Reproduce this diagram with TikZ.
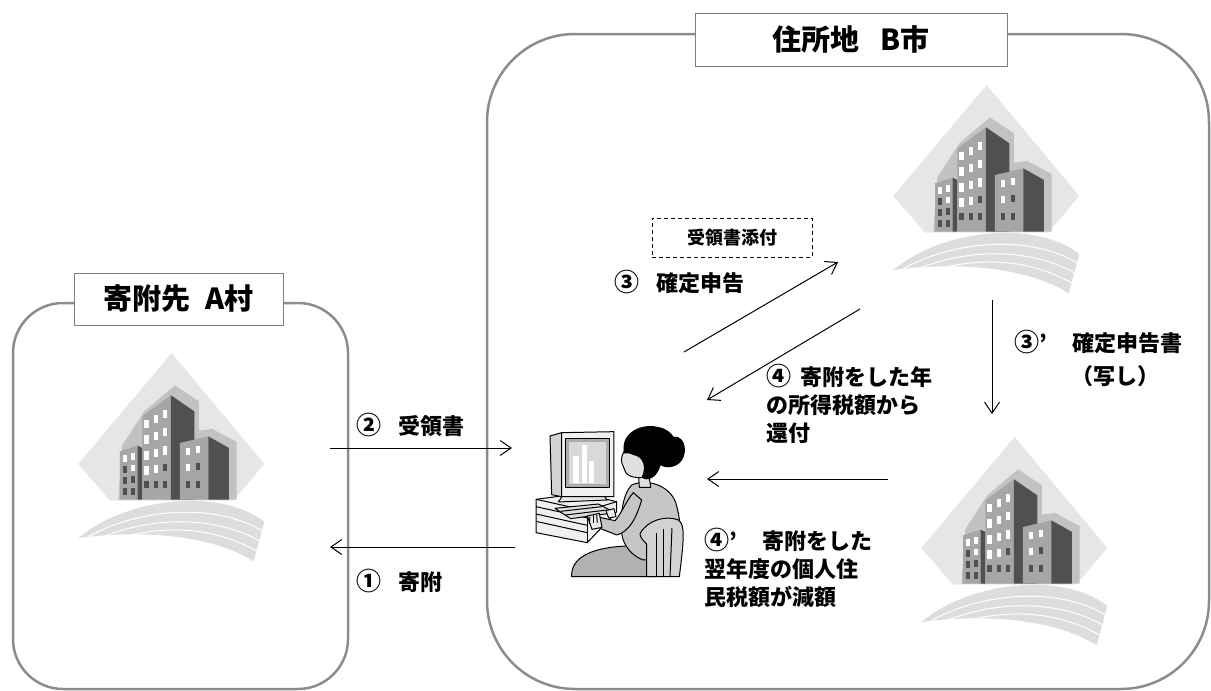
\documentclass[tikz,border=0pt]{standalone}
\usepackage{fontspec}
\setmainfont{Noto Sans CJK JP}
\usetikzlibrary{arrows.meta}

\definecolor{framegray}{HTML}{8C8C8C}
\definecolor{diamgray}{HTML}{E6E6E6}
\definecolor{swooshgray}{HTML}{DDDDDD}
\definecolor{shadegray}{HTML}{C2C2C2}
\definecolor{facegray}{HTML}{A6A6A6}
\definecolor{sidegray}{HTML}{505050}

% circled step numbers, set a little larger than the text around them
\newcommand\stepno[1]{{\fontsize{25}{28}\selectfont #1}}

\tikzset{
  frame/.style={draw=framegray, line width=2.5pt},
  titlebox/.style={draw=gray, line width=0.8pt, fill=white, inner sep=0pt,
    font=\bfseries\fontsize{29}{34}\selectfont},
  flow/.style={-{Straight Barb[length=11pt,width=15pt]}, line width=1pt},
  lbl/.style={font=\bfseries\fontsize{22}{28}\selectfont, align=left, inner sep=0pt},
  notebox/.style={draw, dashed, dash pattern=on 4pt off 3pt, line width=1pt,
    inner sep=0pt, font=\bfseries\fontsize{18}{22}\selectfont},
  win/.style={fill=white},
  dwin/.style={fill=sidegray},
  % office building icon, drawn in a 600 x 640 grid
  building/.pic={
    \begin{scope}[x=0.3333pt,y=-0.3333pt]
      \fill[diamgray] (320,15) -- (598,348) -- (505,458) -- (135,458) -- (40,348) -- cycle;
      \fill[swooshgray] (40,570) .. controls (190,445) and (470,420) .. (598,522)
        -- (566,640) .. controls (440,560) and (230,545) .. (40,570) -- cycle;
      \draw[white, line width=1pt] (70,566) .. controls (220,482) and (450,462) .. (594,550);
      \draw[white, line width=1pt] (100,572) .. controls (250,508) and (440,498) .. (586,580);
      \draw[white, line width=1pt] (140,576) .. controls (280,534) and (430,528) .. (577,610);
      \fill[shadegray] (172,292) -- (238,190) -- (330,112) -- (402,160) -- (402,248)
        -- (442,243) -- (515,282) -- (515,455) -- (160,455) -- cycle;
      % left block
      \fill[facegray] (165,310) -- (218,293) -- (218,455) -- (165,455) -- cycle;
      \fill[sidegray] (218,293) -- (232,300) -- (232,455) -- (218,455) -- cycle;
      % tall middle block
      \fill[facegray] (232,205) -- (318,142) -- (318,455) -- (232,455) -- cycle;
      \fill[sidegray] (318,142) -- (388,190) -- (388,455) -- (318,455) -- cycle;
      % right block
      \fill[facegray] (345,285) -- (430,265) -- (430,455) -- (345,455) -- cycle;
      \fill[sidegray] (430,265) -- (492,300) -- (492,455) -- (430,455) -- cycle;
      % windows
      \foreach \wx/\wy in {238/215,266/200,293/185,238/262,266/251,293/240,
                           238/310,266/302,293/295,238/355,266/350}
        \fill[win] (\wx,\wy) rectangle ++(14,25);
      \foreach \wx/\wy in {293/347,238/398,266/398,293/398}
        \fill[dwin] (\wx,\wy) rectangle ++(14,22);
      \foreach \wx/\wy in {173/322,198/316,198/350,362/300,394/295,362/348}
        \fill[win] (\wx,\wy) rectangle ++(12,20);
      \foreach \wx/\wy in {173/355,173/388,198/385,173/420,198/420,394/345,362/400,394/400}
        \fill[dwin] (\wx,\wy) rectangle ++(12,20);
    \end{scope}
  },
  % woman at a computer, drawn in a 660 x 600 grid
  worker/.pic={
    \begin{scope}[x=0.3333pt,y=-0.3333pt, line width=1pt, line join=round]
      % desk
      \filldraw[fill=gray!12] (108,298) -- (245,280) -- (350,305) -- (350,335)
        -- (262,428) -- (108,398) -- cycle;
      \draw (108,298) -- (262,332) -- (350,305);
      \draw (262,332) -- (262,428);
      \foreach \k in {22,44,66}
        \draw (108,298+\k) -- (262,332+\k);
      % monitor
      \filldraw[fill=gray!20] (190,284) -- (305,280) -- (322,300) -- (175,306) -- cycle;
      \filldraw[fill=gray!35] (150,108) -- (185,98) -- (185,290) -- (155,284) -- cycle;
      \filldraw[fill=gray!12] (185,98) -- (342,95) -- (342,290) -- (185,290) -- cycle;
      \filldraw[fill=gray!65] (198,115) rectangle (328,262);
      \fill[gray!30] (208,125) rectangle (318,252);
      \fill[white] (220,168) rectangle (237,250);
      \fill[white] (245,135) rectangle (262,250);
      \fill[white] (267,182) rectangle (283,250);
      % keyboard
      \filldraw[fill=gray!25] (165,325) -- (295,312) -- (345,338) -- (212,356) -- cycle;
      \draw (182,334) -- (305,320);
      \draw (196,345) -- (322,330);
      % lap
      \filldraw[fill=gray!60] (215,530) .. controls (212,470) and (280,442) .. (380,438)
        -- (470,450) -- (470,530) -- cycle;
      % torso
      \filldraw[fill=gray!45] (395,255) .. controls (440,235) and (510,255) .. (528,310)
        .. controls (545,370) and (545,430) .. (530,480) -- (430,480)
        .. controls (400,470) and (370,440) .. (365,400)
        .. controls (360,340) and (370,280) .. (395,255) -- cycle;
      % arm
      \filldraw[fill=gray!45] (425,300) .. controls (410,350) and (390,395) .. (350,405)
        -- (300,385) -- (298,352) -- (345,362) .. controls (365,340) and (380,300) .. (400,278) -- cycle;
      % hands
      \filldraw[fill=gray!15] (262,348) -- (298,340) -- (306,382) -- (276,388) -- cycle;
      \draw (270,350) -- (268,372);
      \draw (280,346) -- (280,370);
      \draw (290,344) -- (292,368);
      \filldraw[fill=gray!15] (318,332) -- (342,326) -- (348,350) -- (326,354) -- cycle;
      % neck and face
      \filldraw[fill=gray!25] (415,212) -- (445,212) -- (452,262) -- (418,262) -- cycle;
      \filldraw[fill=gray!25] (382,138) .. controls (368,160) and (360,176) .. (366,190)
        -- (372,205) .. controls (375,226) and (398,236) .. (432,232) -- (442,168) -- cycle;
      % hair
      \fill[black] (372,160) .. controls (360,100) and (420,70) .. (470,80)
        .. controls (500,85) and (515,100) .. (520,110)
        .. controls (558,104) and (568,168) .. (535,192)
        .. controls (512,207) and (492,202) .. (482,196)
        .. controls (470,236) and (440,246) .. (425,232)
        .. controls (440,200) and (430,170) .. (400,165)
        .. controls (390,160) and (380,158) .. (372,160) -- cycle;
      % chair back
      \filldraw[fill=gray!35] (420,402) .. controls (440,360) and (500,345) .. (535,360)
        .. controls (556,372) and (552,420) .. (538,530) -- (440,530) -- (440,432)
        .. controls (430,422) and (420,412) .. (420,402) -- cycle;
      \draw (470,398) -- (470,530);
      \draw (492,388) -- (492,530);
      \draw (516,384) -- (510,530);
    \end{scope}
  }
}

\begin{document}
\begin{tikzpicture}[x=1pt,y=-1pt]
  \useasboundingbox (0,0) rectangle (1211,691);

  % municipality frames
  \draw[frame, rounded corners=50pt] (13,303) rectangle (348,689);
  \draw[frame, rounded corners=88pt] (487,34) rectangle (1209,689);

  \node[titlebox, minimum width=209pt, minimum height=52pt] (titleA) at (178.5,299)
    {寄附先\hspace{0.5em}A村};
  \node[titlebox, minimum width=312pt, minimum height=53pt] (titleB) at (851,39.5)
    {住所地\hspace{0.7em}B市};

  % icons
  \pic at (65,348) {building};
  \pic at (880,80) {building};
  \pic at (908,432) {building};
  \pic at (500,400) {worker};

  % arrow end points
  \coordinate (receiptS) at (330,448);
  \coordinate (receiptE) at (512,448);
  \coordinate (giftS) at (515,547);
  \coordinate (giftE) at (330,547);
  \coordinate (filingS) at (684,352);
  \coordinate (filingE) at (838,262);
  \coordinate (refundS) at (860,309);
  \coordinate (refundE) at (707,400);
  \coordinate (copyS) at (992,300);
  \coordinate (copyE) at (992,414);
  \coordinate (cutS) at (888,479);
  \coordinate (cutE) at (707,479);

  \draw[flow] (receiptS) -- (receiptE);
  \draw[flow] (giftS) -- (giftE);
  \draw[flow] (filingS) -- (filingE);
  \draw[flow] (refundS) -- (refundE);
  \draw[flow] (copyS) -- (copyE);
  \draw[flow] (cutS) -- (cutE);

  % labels
  \node[lbl, anchor=west] (lreceipt) at (356,425) {\stepno{②}\hspace{0.8em}受領書};
  \node[lbl, anchor=west] (lgift) at (356,581) {\stepno{①}\hspace{0.8em}寄附};
  \node[notebox, minimum width=160pt, minimum height=39pt] (lattach) at (732,237.5) {受領書添付};
  \node[lbl, anchor=west] (lfiling) at (614,282) {\stepno{③}\hspace{0.8em}確定申告};
  \node[lbl, anchor=north west] (lrefund) at (766,364)
    {\stepno{④}\hspace{0.4em}寄附をした年\\の所得税額から\\還付};
  \node[lbl, anchor=west] (lcopy) at (1014,342) {\stepno{③}’\hspace{1.15em}確定申告書};
  \node[lbl, anchor=west] (lcopy2) at (1071,376) {（写し）};
  \node[lbl, anchor=north west] (lcut) at (704,528)
    {\stepno{④}’\hspace{1.15em}寄附をした\\翌年度の個人住\\民税額が減額};
\end{tikzpicture}
\end{document}
